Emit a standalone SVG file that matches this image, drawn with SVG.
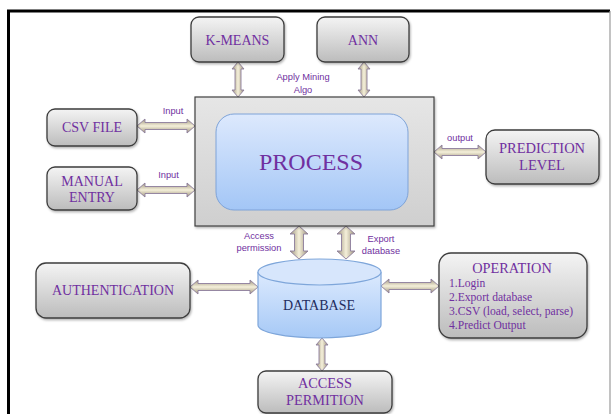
<svg xmlns="http://www.w3.org/2000/svg" width="612" height="414" viewBox="0 0 612 414">
<defs>
<linearGradient id="gbox" x1="0" y1="0" x2="0" y2="1"><stop offset="0" stop-color="#F4F4F4"/><stop offset="1" stop-color="#BCBCBC"/></linearGradient>
<linearGradient id="gproc" x1="0" y1="0" x2="0" y2="1"><stop offset="0" stop-color="#E6E6E6"/><stop offset="1" stop-color="#CFCFCF"/></linearGradient>
<linearGradient id="gblue" x1="0" y1="0" x2="0" y2="1"><stop offset="0" stop-color="#DDE9FD"/><stop offset="1" stop-color="#A3C6F6"/></linearGradient>
<linearGradient id="gcyl" x1="0" y1="0" x2="0" y2="1"><stop offset="0" stop-color="#DCEAFE"/><stop offset="1" stop-color="#A6C9F6"/></linearGradient>
<linearGradient id="gah" x1="0" y1="0" x2="0" y2="1"><stop offset="0" stop-color="#9C927C"/><stop offset="0.5" stop-color="#F5F0DA"/><stop offset="1" stop-color="#9C927C"/></linearGradient>
<linearGradient id="gav" x1="0" y1="0" x2="1" y2="0"><stop offset="0" stop-color="#9C927C"/><stop offset="0.5" stop-color="#F5F0DA"/><stop offset="1" stop-color="#9C927C"/></linearGradient>
<filter id="sh" x="-10%" y="-10%" width="125%" height="130%"><feDropShadow dx="1" dy="1.5" stdDeviation="1.2" flood-color="#000" flood-opacity="0.3"/></filter>
</defs>
<style>
.box{fill:url(#gbox);stroke:#3C3C3C;stroke-width:1.3;filter:url(#sh)}
.t{font-family:"Liberation Serif","Times New Roman",serif;fill:#7030A0;text-anchor:middle;font-size:14px}
.ol{font-family:"Liberation Serif","Times New Roman",serif;fill:#7030A0;font-size:11.6px}
.lb{font-family:"Liberation Sans",Arial,sans-serif;fill:#7030A0;text-anchor:middle;font-size:9.3px}
.ah{fill:url(#gah);stroke:#8C7D9C;stroke-width:0.9}
.av{fill:url(#gav);stroke:#8C7D9C;stroke-width:0.9}
</style>
<rect width="612" height="414" fill="#fff"/>
<path d="M8.5 414 V11 H610" fill="none" stroke="#000" stroke-width="3"/>
<line x1="610" y1="11" x2="610" y2="414" stroke="#9A9A9A" stroke-width="1.2"/>

<g id="connectors">
<!-- K-MEANS - process -->
<path class="av" d="M238 62 L244 69 L241 69 L241 90 L244 90 L238 97 L232 90 L235 90 L235 69 L232 69 Z"/>
<!-- ANN - process -->
<path class="av" d="M364 62 L370 69 L367 69 L367 90 L370 90 L364 97 L358 90 L361 90 L361 69 L358 69 Z"/>
<!-- CSV - process -->
<path class="ah" d="M137 126 L145 119 L145 122.5 L187 122.5 L187 119 L195 126 L187 133 L187 129.5 L145 129.5 L145 133 Z"/>
<!-- MANUAL - process -->
<path class="ah" d="M137 190 L145 183 L145 186.5 L187 186.5 L187 183 L195 190 L187 197 L187 193.5 L145 193.5 L145 197 Z"/>
<!-- process - prediction -->
<path class="ah" d="M434 152 L442 145 L442 148.5 L478 148.5 L478 145 L486 152 L478 159 L478 155.5 L442 155.5 L442 159 Z"/>
<!-- process - database (access) -->
<path class="av" d="M299 226 L308 234 L303.5 234 L303.5 251 L308 251 L299 259 L290 251 L294.5 251 L294.5 234 L290 234 Z"/>
<!-- process - database (export) -->
<path class="av" d="M346 226 L355 234 L350.5 234 L350.5 251 L355 251 L346 259 L337 251 L341.5 251 L341.5 234 L337 234 Z"/>
<!-- auth - database -->
<path class="ah" d="M190 287 L198 280 L198 283.5 L250 283.5 L250 280 L258 287 L250 294 L250 290.5 L198 290.5 L198 294 Z"/>
<!-- database - operation -->
<path class="ah" d="M381 286 L389 279 L389 282.5 L431 282.5 L431 279 L439 286 L431 293 L431 289.5 L389 289.5 L389 293 Z"/>
<!-- database - access permition -->
<path class="av" d="M322 338 L328 345 L325 345 L325 364 L328 364 L322 371 L316 364 L319 364 L319 345 L316 345 Z"/>
<text class="lb" x="303" y="80">Apply Mining</text>
<text class="lb" x="303" y="93">Algo</text>
<text class="lb" x="173" y="114">Input</text>
<text class="lb" x="168.5" y="178">Input</text>
<text class="lb" x="460" y="141">output</text>
<text class="lb" x="259" y="239">Access</text>
<text class="lb" x="259" y="251">permission</text>
<text class="lb" x="381" y="242">Export</text>
<text class="lb" x="381" y="254">database</text>
</g>

<g id="kmeans"><rect class="box" x="191" y="17" width="93" height="45" rx="8"/><text class="t" x="237.5" y="45">K-MEANS</text></g>
<g id="ann"><rect class="box" x="317" y="17" width="92" height="45" rx="8"/><text class="t" x="363" y="45">ANN</text></g>

<g id="process">
<rect x="195" y="97" width="239" height="129" fill="url(#gproc)" stroke="#404040" stroke-width="1.2" filter="url(#sh)"/>
<rect x="216" y="114" width="192" height="96" rx="18" fill="url(#gblue)" stroke="#7EA3D8" stroke-width="1"/>
<text class="t" x="311" y="170" style="font-size:24px">PROCESS</text>
</g>

<g id="csvfile"><rect class="box" x="47" y="109" width="90" height="37" rx="8"/><text class="t" x="92" y="132">CSV FILE</text></g>
<g id="manualentry"><rect class="box" x="47" y="167" width="90" height="43" rx="8"/><text class="t" x="92" y="186">MANUAL</text><text class="t" x="92" y="202">ENTRY</text></g>
<g id="prediction"><rect class="box" x="486" y="130" width="113" height="54" rx="9"/><text class="t" x="542" y="153" style="font-size:14.5px">PREDICTION</text><text class="t" x="542" y="170" style="font-size:14.5px">LEVEL</text></g>

<g id="database">
<path d="M258 272 V325 A61.5 13 0 0 0 381 325 V272" fill="url(#gcyl)" stroke="#7EA6DA" stroke-width="1.2"/>
<ellipse cx="319.5" cy="272" rx="61.5" ry="13" fill="#D7E6FC" stroke="#7EA6DA" stroke-width="1.2"/>
<text x="319" y="310" text-anchor="middle" font-family="Liberation Serif, Times New Roman, serif" font-size="14px" fill="#1F2D5E">DATABASE</text>
</g>

<g id="authentication"><rect class="box" x="36" y="263" width="154" height="55" rx="10"/><text class="t" x="113" y="295">AUTHENTICATION</text></g>

<g id="operation"><rect class="box" x="439" y="253" width="148" height="85" rx="12"/>
<text class="t" x="512" y="273" style="font-size:14.3px">OPERATION</text>
<text class="ol" x="449" y="287">1.Login</text>
<text class="ol" x="449" y="301">2.Export database</text>
<text class="ol" x="449" y="315">3.CSV (load, select, parse)</text>
<text class="ol" x="449" y="329">4.Predict Output</text>
</g>

<g id="accesspermition"><rect class="box" x="258" y="371" width="134" height="42" rx="8"/><text class="t" x="325" y="388" style="font-size:14.3px">ACCESS</text><text class="t" x="325" y="405" style="font-size:14.3px">PERMITION</text></g>
</svg>
